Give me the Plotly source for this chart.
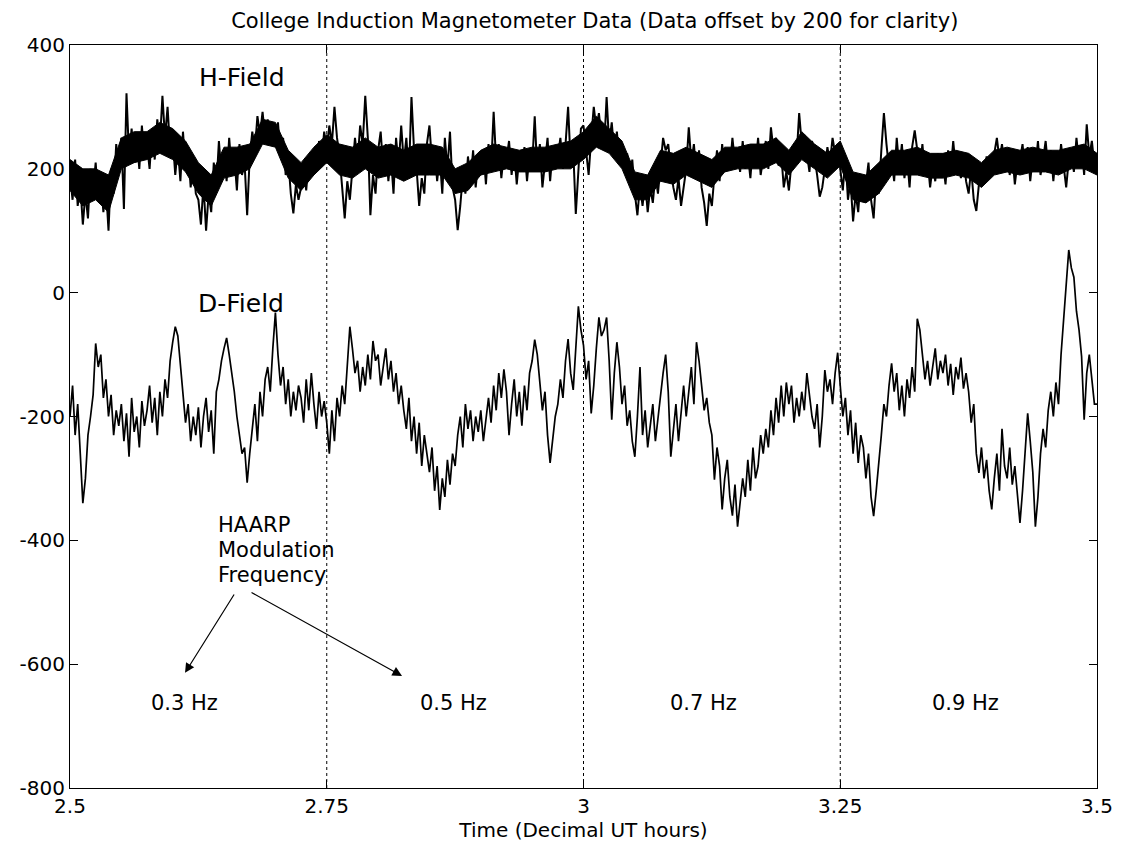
import plotly.graph_objects as go

# ---- data ----
t_start = 2.5          # decimal UT hours
t_step = 0.0025
core_step = 0.0125     # sample spacing of the dense H-field core band

h_field = [
    190, 150, 215, 140, 175, 110, 160, 120, 200, 165,
    210, 150, 185, 130, 170, 100, 200, 160, 240, 200,
    250, 135, 322, 220, 265, 210, 250, 200, 270, 215,
    240, 200, 265, 215, 280, 240, 318, 250, 300, 230,
    250, 190, 235, 180, 260, 200, 230, 170, 210, 160,
    150, 110, 175, 100, 160, 130, 210, 170, 245, 190,
    230, 180, 250, 195, 220, 165, 240, 190, 210, 125,
    220, 260, 230, 285, 255, 292, 250, 280, 240, 270,
    245, 275, 220, 250, 190, 215, 160, 128, 175, 150,
    170, 200, 165, 215, 190, 230, 200, 245, 215, 260,
    230, 270, 240, 300, 250, 220, 170, 120, 180, 150,
    200, 250, 210, 270, 240, 318, 250, 125, 190, 160,
    230, 260, 200, 240, 180, 220, 160, 250, 205, 270,
    210, 250, 190, 316, 230, 200, 140, 185, 160, 240,
    270, 210, 230, 180, 220, 160, 250, 200, 260, 170,
    150, 101, 140, 190, 160, 220, 180, 230, 170, 210,
    190, 230, 175, 240, 200, 292, 210, 240, 185, 225,
    215, 245, 190, 230, 175, 220, 200, 235, 180, 225,
    205, 285, 195, 240, 170, 215, 250, 180, 230, 200,
    220, 250, 200, 240, 300, 210, 230, 127, 200, 265,
    270, 230, 190, 250, 300, 265, 290, 250, 230, 316,
    240, 275, 225, 260, 210, 240, 195, 225, 180, 215,
    160, 125, 175, 140, 180, 130, 170, 145, 190, 160,
    210, 250, 230, 240, 200, 170, 150, 185, 140, 175,
    200, 267, 210, 240, 190, 230, 170, 145, 108, 160,
    140, 190, 230, 180, 240, 195, 225, 200, 250, 210,
    230, 195, 245, 200, 225, 185, 240, 205, 250, 190,
    220, 245, 200, 267, 230, 250, 205, 225, 170, 195,
    165, 210, 240, 220, 290, 240, 255, 220, 195, 245,
    220, 190, 155, 170, 200, 235, 210, 250, 225, 240,
    200, 165, 220, 150, 180, 115, 160, 130, 190, 150,
    175, 210, 150, 120, 190, 160, 230, 290, 240, 200,
    215, 180, 250, 200, 240, 185, 220, 170, 235, 262,
    230, 200, 240, 190, 215, 170, 205, 180, 225, 195,
    210, 175, 230, 195, 245, 200, 215, 185, 220, 180,
    160, 200, 150, 132, 175, 205, 185, 220, 195, 210,
    225, 250, 215, 240, 200, 230, 190, 225, 175, 210,
    215, 240, 195, 235, 180, 220, 200, 245, 190, 215,
    245, 200, 230, 180, 225, 195, 240, 205, 170, 215,
    230, 195, 250, 210, 235, 190, 272, 220, 245, 205,
    200,
]

# dense (nearly solid) part of the H-field trace: lower / upper edge
h_core_low = [
    165, 140, 150, 130, 200, 210, 215, 225, 215, 195,
    160, 140, 185, 190, 200, 240, 235, 185, 165, 190,
    210, 190, 185, 200, 185, 190, 180, 190, 190, 190,
    160, 165, 190, 195, 200, 195, 195, 195, 200, 200,
    215, 235, 225, 200, 150, 150, 180, 175, 190, 180,
    170, 195, 200, 200, 200, 210, 190, 215, 200, 185,
    205, 150, 145, 160, 190, 190, 190, 185, 185, 190,
    185, 170, 190, 195, 190, 195, 195, 190, 200, 200,
    190,
]
h_core_high = [
    215, 200, 200, 190, 250, 260, 260, 275, 265, 245,
    210, 190, 235, 235, 240, 280, 275, 230, 210, 235,
    255, 240, 235, 250, 235, 240, 230, 240, 240, 235,
    200, 210, 230, 240, 235, 230, 235, 235, 240, 245,
    260, 285, 265, 245, 195, 190, 230, 225, 235, 225,
    215, 235, 235, 240, 240, 250, 230, 260, 240, 225,
    245, 195, 190, 210, 230, 230, 235, 225, 225, 230,
    225, 210, 230, 235, 230, 235, 230, 230, 235, 240,
    225,
]

d_field = [
    -200, -150, -230, -180, -260, -340, -300, -230, -200, -165,
    -82, -120, -100, -170, -140, -200, -165, -230, -190, -215,
    -180, -240, -195, -265, -170, -225, -200, -250, -175, -215,
    -190, -150, -210, -170, -230, -160, -200, -140, -170, -110,
    -80, -55, -70, -120, -160, -210, -180, -240, -200, -230,
    -185, -250, -200, -170, -225, -190, -260, -160, -140, -110,
    -90, -73, -100, -130, -160, -200, -230, -260, -250, -307,
    -260, -220, -180, -240, -160, -200, -140, -120, -160, -90,
    -32, -100, -150, -120, -180, -140, -200, -160, -190, -150,
    -170, -210, -140, -190, -130, -180, -220, -160, -200, -175,
    -210, -260, -190, -240, -170, -200, -150, -180, -110, -55,
    -90, -130, -110, -160, -120, -150, -100, -140, -78, -110,
    -100, -150, -120, -90, -140, -110, -160, -130, -180, -150,
    -190, -220, -170, -240, -200, -260, -210, -280, -230, -260,
    -290, -250, -320, -280, -351, -300, -330, -270, -310, -260,
    -280, -230, -200, -250, -180, -220, -190, -240, -200, -225,
    -190, -240, -200, -170, -210, -150, -190, -130, -170, -124,
    -160, -230, -180, -140, -200, -160, -215, -150, -190, -130,
    -110, -76, -100, -150, -190, -160, -230, -275, -240, -200,
    -180, -140, -170, -110, -75, -130, -157, -90, -22, -60,
    -85, -140, -110, -195, -150, -90, -40, -70, -60, -40,
    -110, -205, -130, -80, -120, -180, -150, -215, -190, -240,
    -265, -200, -120, -230, -190, -250, -210, -180, -240, -200,
    -170, -130, -100, -160, -265, -220, -180, -240, -190, -150,
    -200, -160, -120, -180, -80, -110, -150, -190, -170, -210,
    -230, -302, -250, -280, -350, -300, -270, -330, -360, -310,
    -378, -340, -300, -330, -270, -320, -250, -300, -280, -230,
    -260, -220, -250, -190, -230, -170, -210, -150, -200, -145,
    -180, -150, -210, -170, -200, -160, -190, -130, -170, -200,
    -220, -180, -250, -200, -125, -160, -140, -180, -130, -97,
    -150, -200, -170, -230, -190, -260, -210, -275, -230, -250,
    -300, -260, -330, -361, -320, -280, -230, -180, -200, -150,
    -114, -160, -130, -190, -150, -200, -140, -170, -120, -160,
    -42, -60, -100, -140, -110, -150, -120, -90, -140, -110,
    -130, -100, -150, -115, -165, -120, -140, -105, -155, -130,
    -160, -210, -180, -260, -291, -250, -300, -270, -320, -350,
    -300, -260, -320, -220, -280, -300, -250, -310, -280, -330,
    -372, -320, -250, -195, -240, -290, -378, -330, -260, -220,
    -250, -190, -160, -200, -145, -180, -100, -40, 10, 69,
    40, 25, -30, -60, -103, -205, -130, -100, -140, -180,
    -180,
]

x_tick_values = [2.5, 2.75, 3, 3.25, 3.5]
x_tick_labels = ["2.5", "2.75", "3", "3.25", "3.5"]
y_tick_values = [400, 200, 0, -200, -400, -600, -800]
y_tick_labels = ["400", "200", "0", "-200", "-400", "-600", "-800"]
segment_boundaries = [2.75, 3.0, 3.25]
frequency_labels = ["0.3 Hz", "0.5 Hz", "0.7 Hz", "0.9 Hz"]

time_h = [t_start + i * t_step for i in range(len(h_field))]
time_d = [t_start + i * t_step for i in range(len(d_field))]
time_core = [t_start + i * core_step for i in range(len(h_core_low))]

FONT = "DejaVu Sans"

fig = go.Figure()
fig.add_trace(go.Scatter(x=time_core + time_core[::-1], y=h_core_low + h_core_high[::-1],
                         mode="lines", fill="toself", fillcolor="black",
                         line=dict(color="black", width=1), hoverinfo="skip"))
fig.add_trace(go.Scatter(x=time_h, y=h_field, mode="lines",
                         line=dict(color="black", width=2.0), hoverinfo="skip"))
fig.add_trace(go.Scatter(x=time_d, y=d_field, mode="lines",
                         line=dict(color="black", width=1.7), hoverinfo="skip"))

for b in segment_boundaries:
    fig.add_shape(type="line", x0=b, x1=b, y0=0, y1=1, xref="x", yref="paper",
                  line=dict(color="black", width=1, dash="dot"), layer="below")

annotations = []
annotations.append(dict(x=2.6675, y=347, text="H-Field", showarrow=False,
                        font=dict(family=FONT, size=25, color="black")))
annotations.append(dict(x=2.6665, y=-18, text="D-Field", showarrow=False,
                        font=dict(family=FONT, size=25, color="black")))
for txt, yv in zip(["HAARP", "Modulation", "Frequency"], [-375, -416, -456]):
    annotations.append(dict(x=2.6422, y=yv, text=txt, showarrow=False, xanchor="left",
                            font=dict(family=FONT, size=21, color="black")))
for txt, xv in zip(frequency_labels, [2.611, 2.873, 3.1164, 3.3715]):
    annotations.append(dict(x=xv, y=-663, text=txt, showarrow=False,
                            font=dict(family=FONT, size=21, color="black")))
# arrows
annotations.append(dict(x=2.612, y=-614, ax=2.6607, ay=-485, xref="x", yref="y",
                        axref="x", ayref="y", text="", showarrow=True,
                        arrowhead=2, arrowsize=1.6, arrowwidth=1.2, arrowcolor="black"))
annotations.append(dict(x=2.8233, y=-619, ax=2.6753, ay=-483, xref="x", yref="y",
                        axref="x", ayref="y", text="", showarrow=True,
                        arrowhead=2, arrowsize=1.6, arrowwidth=1.2, arrowcolor="black"))

axis_common = dict(showline=True, linecolor="black", linewidth=1, mirror="ticks",
                   ticks="inside", ticklen=8, tickcolor="black", tickwidth=1,
                   showgrid=False, zeroline=False,
                   tickfont=dict(family=FONT, size=20, color="black"))

# the page body adds an 8 px margin, so the figure is 8 px smaller and the
# top/left margins 8 px smaller to keep the plot frame where the reference has it
fig.update_layout(
    width=1131, height=838,
    margin=dict(l=62, r=42, t=37, b=58),
    paper_bgcolor="white", plot_bgcolor="white",
    showlegend=False,
    title=dict(text="College Induction Magnetometer Data (Data offset by 200 for clarity)",
               x=0.511, xref="paper", xanchor="center", y=0.9855, yanchor="middle",
               font=dict(family=FONT, size=21, color="black")),
    xaxis=dict(range=[2.5, 3.5], tickvals=x_tick_values, ticktext=x_tick_labels,
               title=dict(text="Time (Decimal UT hours)", standoff=2,
                          font=dict(family=FONT, size=20, color="black")),
               **axis_common),
    yaxis=dict(range=[-800, 400], tickvals=y_tick_values, ticktext=y_tick_labels,
               **axis_common),
    annotations=annotations,
)

fig.write_html("out.html")
